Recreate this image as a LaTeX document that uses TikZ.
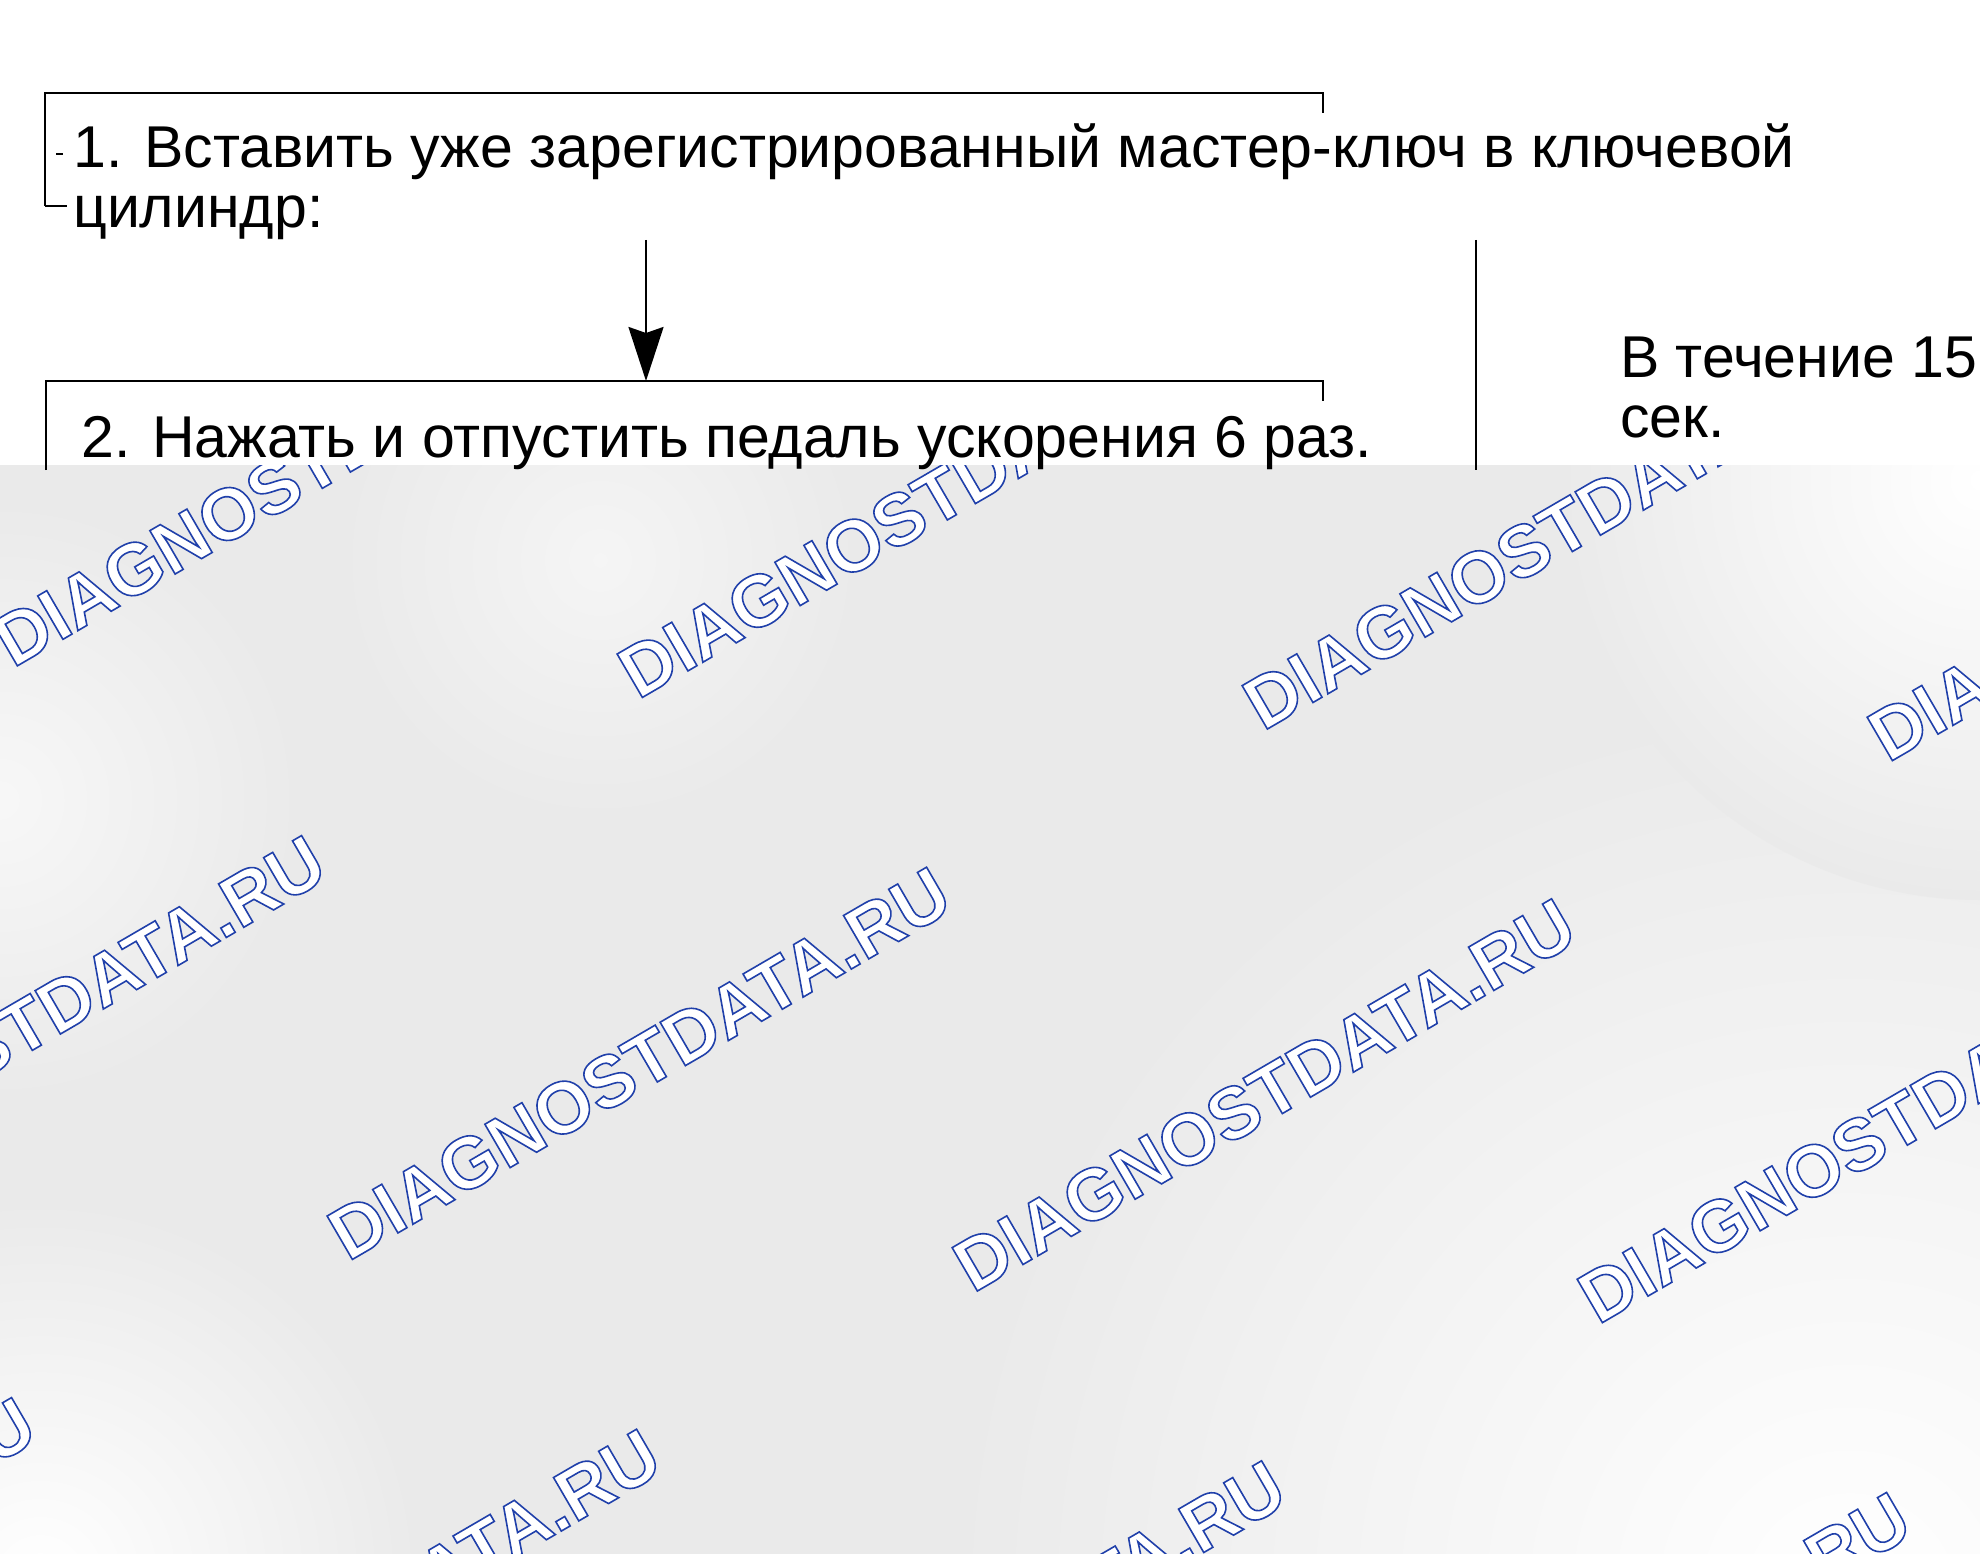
\documentclass[tikz,border=0pt]{standalone}
\usepackage{fontspec}
\setmainfont{Liberation Sans}
\newfontfamily\wmfont{Liberation Sans}
\usetikzlibrary{arrows.meta}

\definecolor{wmblue}{RGB}{32,64,170}
\definecolor{bggray}{RGB}{234,234,234}

% contour text: white fill, blue stroke
\newcommand\wmoutline[1]{\special{pdf:literal direct 2 Tr 1.6 w 0.125 0.25 0.667 RG 1 1 1 rg}#1\special{pdf:literal direct 0 Tr}}

\tikzset{
    frame/.style={line width=2.6pt},
    flow/.style={line width=2.4pt, -{Stealth[length=54pt, width=35pt, inset=6pt]}},
    steptext/.style={font=\fontsize{59}{60}\selectfont, inner sep=0pt, anchor=base west, align=left},
    wmark/.style={font=\wmfont\bfseries\fontsize{73}{73}\selectfont, text=wmblue, inner sep=0pt, anchor=base west, rotate=30.2}
}

\begin{document}
\begin{tikzpicture}[x=1pt, y=-1pt]
        \useasboundingbox (0,0) rectangle (1980,1554);
        \fill[white] (0,0) rectangle (1980,1554);

        %%%%%%%%% Sfondo %%%%%%%%%
        \begin{scope}
            \clip (0,465) rectangle (1980,1554);
            \fill[bggray] (0,465) rectangle (1980,1554);
            \shade[inner color=white, outer color=bggray] (1850,1600) circle (900);
            \shade[inner color=white, outer color=bggray] (40,1580) circle (380);
            \shade[inner color=white, outer color=bggray] (1980,480) circle (420);
            \shade[inner color=black!3, outer color=bggray] (0,800) circle (300);
            \shade[inner color=black!4, outer color=bggray] (600,560) circle (260);

            %%%%%% Filigrana %%%%%%
            \foreach \i in {-1,...,2}
                \foreach \j in {-1,0,1}
                    \node[wmark] (wm\i\j) at ({348+625*\i-290*\j},{1262+31.6*\i+562*\j}) {\wmoutline{DIAGNOSTDATA.RU}};
        \end{scope}

        %%%%%%%%% Testi %%%%%%%%%%
        \node[steptext] (step1) at (73,228) {1. Вставить уже зарегистрированный мастер-ключ в ключевой\\цилиндр:};
        \node[steptext] (step2) at (81,457) {2. Нажать и отпустить педаль ускорения 6 раз.};
        \node[steptext] (time) at (1620,437) {В течение 15\\сек.};

        %%%%%%%%% Cornici %%%%%%%%%
        \coordinate (box1) at (45,93);
        \coordinate (box2) at (46,381);
        \draw[frame] (box1 |- 0,206) -- (box1) -- (1323,93) -- (1323,113);
        \draw[frame] (box1 |- 0,206) -- (67,206);
        \draw[frame] (56,154) -- (63,154);
        \draw[frame] (box2 |- 0,470) -- (box2) -- (1323,381) -- (1323,401);

        %%%%%%%%% Frecce %%%%%%%%%
        \coordinate (arrow) at (646,240);
        \draw[flow] (arrow) -- (arrow |- box2);
        \coordinate (bar) at (1476,240);
        \draw[frame] (bar) -- (bar |- 0,470);
\end{tikzpicture}
\end{document}
